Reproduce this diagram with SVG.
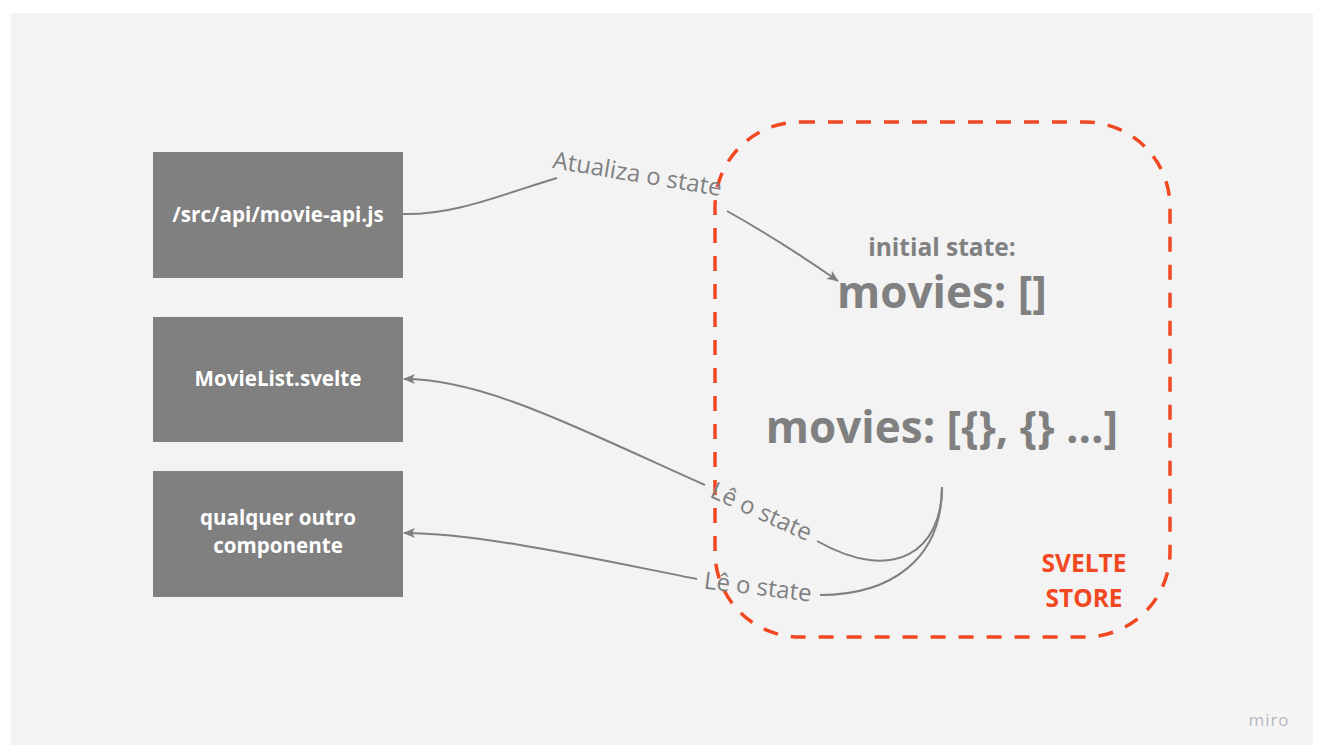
<svg xmlns="http://www.w3.org/2000/svg" width="1321" height="756" viewBox="0 0 1321 756">
<defs>
<marker id="arr" viewBox="0 0 12 10" refX="11" refY="5" markerWidth="12" markerHeight="10" markerUnits="userSpaceOnUse" orient="auto">
<path d="M0,0 L12,5 L0,10 L3,5 Z" fill="#808080"/>
</marker>
</defs>
<style>
.box{fill:#808080}
.bt{font-family:"Open Sans","Liberation Sans",sans-serif;font-weight:700;font-size:20.6px;fill:#ffffff;text-anchor:middle}
.conn{fill:none;stroke:#808080;stroke-width:2}
.lbl{font-family:"Open Sans","Liberation Sans",sans-serif;font-size:24px;fill:#808080;text-anchor:middle}
.st{font-family:"Open Sans","Liberation Sans",sans-serif;font-weight:700;fill:#808080;text-anchor:middle}
.sv{font-family:"Open Sans","Liberation Sans",sans-serif;font-weight:700;font-size:24.5px;fill:#f24822;text-anchor:middle}
</style>
<rect x="0" y="0" width="1321" height="756" fill="#ffffff"/>
<rect x="11" y="13" width="1302" height="732" fill="#f3f3f3"/>

<g id="store">
<rect x="715" y="122" width="455" height="515" rx="85" ry="85" fill="none" stroke="#f24822" stroke-width="3.5" stroke-dasharray="15 13"/>
<text class="sv" x="1084" y="572">SVELTE</text>
<text class="sv" x="1084" y="607">STORE</text>
</g>

<g id="initial-state">
<text class="st" x="942" y="256" font-size="24.5">initial state:</text>
<text class="st" x="942" y="308" font-size="44">movies: []</text>
</g>

<g id="movies-state">
<text class="st" x="942" y="443" font-size="44">movies: [{}, {} ...]</text>
</g>

<g id="node-api">
<rect class="box" x="153" y="152" width="250" height="126"/>
<text class="bt" x="278" y="222">/src/api/movie-api.js</text>
</g>

<g id="node-movielist">
<rect class="box" x="153" y="317" width="250" height="125"/>
<text class="bt" x="278" y="386">MovieList.svelte</text>
</g>

<g id="node-outro">
<rect class="box" x="153" y="471" width="250" height="126"/>
<text class="bt" x="278" y="525">qualquer outro</text>
<text class="bt" x="278" y="553">componente</text>
</g>

<g id="connectors">
<path class="conn" d="M403,214 C455,215 500,195 557,178"/>
<path class="conn" d="M727,211 C770,235 805,258 838,281" marker-end="url(#arr)"/>
<text class="lbl" transform="translate(636,182) rotate(9.5)" x="0" y="0">Atualiza o state</text>

<path class="conn" d="M942,487 C942,550 895,585 817,541"/>
<path class="conn" d="M705,485 C560,420 480,379 404,379" marker-end="url(#arr)"/>
<text class="lbl" transform="translate(758,519) rotate(24.5)" x="0" y="0">Lê o state</text>

<path class="conn" d="M942,487 C942,560 890,595 820,595"/>
<path class="conn" d="M697,579 C600,560 480,533 404,533" marker-end="url(#arr)"/>
<text class="lbl" transform="translate(757,595) rotate(7)" x="0" y="0">Lê o state</text>
</g>

<rect x="1238" y="702" width="64" height="33" fill="#f5f5f5"/>
<text x="1269" y="726" font-family="'Open Sans','Liberation Sans',sans-serif" font-size="17" fill="#b8b8c0" text-anchor="middle" letter-spacing="1">miro</text>
</svg>
